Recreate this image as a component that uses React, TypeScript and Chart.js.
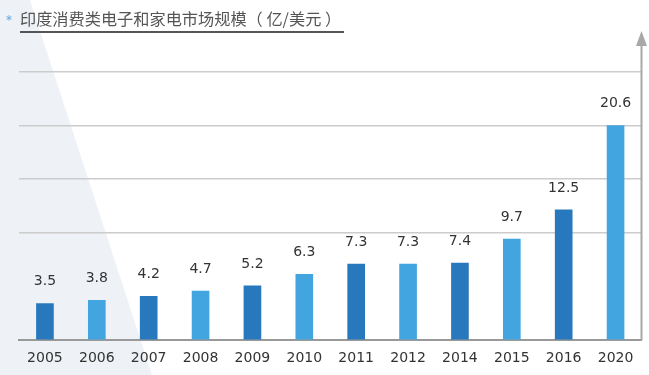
import React, { useEffect, useRef } from "react";
import { Chart, registerables } from "chart.js";

Chart.register(...registerables);

const titleText = "印度消费类电子和家电市场规模（ 亿/美元 ）";
const categories = ["2005", "2006", "2007", "2008", "2009", "2010", "2011", "2012", "2014", "2015", "2016", "2020"];
const values = [3.5, 3.8, 4.2, 4.7, 5.2, 6.3, 7.3, 7.3, 7.4, 9.7, 12.5, 20.6];
const barColors = ["#2878BE", "#42A5DF", "#2878BE", "#42A5DF", "#2878BE", "#42A5DF", "#2878BE", "#42A5DF", "#2878BE", "#42A5DF", "#2878BE", "#42A5DF"];
const gridValues = [0, 10.3, 15.45, 20.6, 25.75];
const yMax = 25.75;

const FONT = "'DejaVu Sans', sans-serif";

const bgPlugin = {
  id: "bgShape",
  beforeDraw(chart: any) {
    const { ctx, width, height } = chart;
    ctx.save();
    ctx.fillStyle = "#ffffff";
    ctx.fillRect(0, 0, width, height);
    ctx.fillStyle = "#eef2f6";
    ctx.beginPath();
    ctx.moveTo(0, 0);
    ctx.lineTo(30, 0);
    ctx.lineTo(152, height);
    ctx.lineTo(0, height);
    ctx.closePath();
    ctx.fill();
    ctx.restore();
  },
};

const overlayPlugin = {
  id: "overlay",
  afterDraw(chart: any) {
    const { ctx, chartArea } = chart;
    const meta = chart.getDatasetMeta(0);
    ctx.save();
    ctx.font = `14px ${FONT}`;
    ctx.fillStyle = "#333333";
    ctx.textAlign = "center";
    ctx.textBaseline = "middle";
    meta.data.forEach((bar: any, i: number) => {
      ctx.fillText(String(values[i]), bar.x, bar.y - 22);
    });
    // y axis with arrow
    const x = chartArea.right;
    ctx.strokeStyle = "#a8a8a8";
    ctx.lineWidth = 2;
    ctx.beginPath();
    ctx.moveTo(x, chartArea.bottom);
    ctx.lineTo(x, 42);
    ctx.stroke();
    ctx.fillStyle = "#a8a8a8";
    ctx.beginPath();
    ctx.moveTo(x - 5.5, 46);
    ctx.lineTo(x + 5.5, 46);
    ctx.lineTo(x, 31);
    ctx.closePath();
    ctx.fill();
    ctx.restore();
  },
};

export default function App() {
  const ref = useRef<HTMLCanvasElement | null>(null);
  useEffect(() => {
    if (!ref.current) return;
    const chart = new Chart(ref.current, {
      type: "bar",
      data: {
        labels: categories,
        datasets: [
          {
            data: values,
            backgroundColor: barColors,
            barThickness: 17,
          },
        ],
      },
      options: {
        animation: false,
        responsive: false,
        maintainAspectRatio: false,
        layout: { padding: { left: 19, right: 7.5, top: 72, bottom: 0 } },
        plugins: { legend: { display: false }, tooltip: { enabled: false } },
        scales: {
          x: {
            grid: { display: false },
            border: { display: true, color: "#999999", width: 2 },
            ticks: { color: "#333333", font: { family: FONT, size: 14 }, padding: 2, autoSkip: false, maxRotation: 0 },
            afterFit(scale: any) {
              scale.height = 35;
            },
          },
          y: {
            position: "right",
            min: 0,
            max: yMax,
            afterBuildTicks(scale: any) {
              scale.ticks = gridValues.map((v) => ({ value: v }));
            },
            afterFit(scale: any) {
              scale.width = 0;
            },
            ticks: { display: false },
            border: { display: false },
            grid: {
              drawTicks: false,
              lineWidth: 1.5,
              color: (c: any) => (c.tick && c.tick.value === 0 ? "rgba(0,0,0,0)" : "#cccccc"),
            },
          },
        },
      },
      plugins: [bgPlugin, overlayPlugin],
    });
    return () => chart.destroy();
  }, []);

  return (
    <div style={{ position: "absolute", left: 0, top: 0, width: 649, height: 375, background: "#fff" }}>
      <canvas ref={ref} width={649} height={375} style={{ position: "absolute", left: 0, top: 0 }} />
      <div
        style={{
          position: "absolute",
          left: 6,
          top: 12,
          color: "#5aa8dc",
          fontFamily: FONT,
          fontSize: 12,
          lineHeight: "16px",
        }}
      >
        *
      </div>
      <div
        style={{
          position: "absolute",
          left: 20,
          top: 7,
          fontFamily: "'Noto Sans CJK SC', sans-serif",
          fontSize: 16.2,
          lineHeight: "22px",
          color: "#555555",
          whiteSpace: "nowrap",
          paddingBottom: 2,
          paddingRight: 3,
          borderBottom: "2px solid #555555",
        }}
      >
        {titleText}
      </div>
    </div>
  );
}
